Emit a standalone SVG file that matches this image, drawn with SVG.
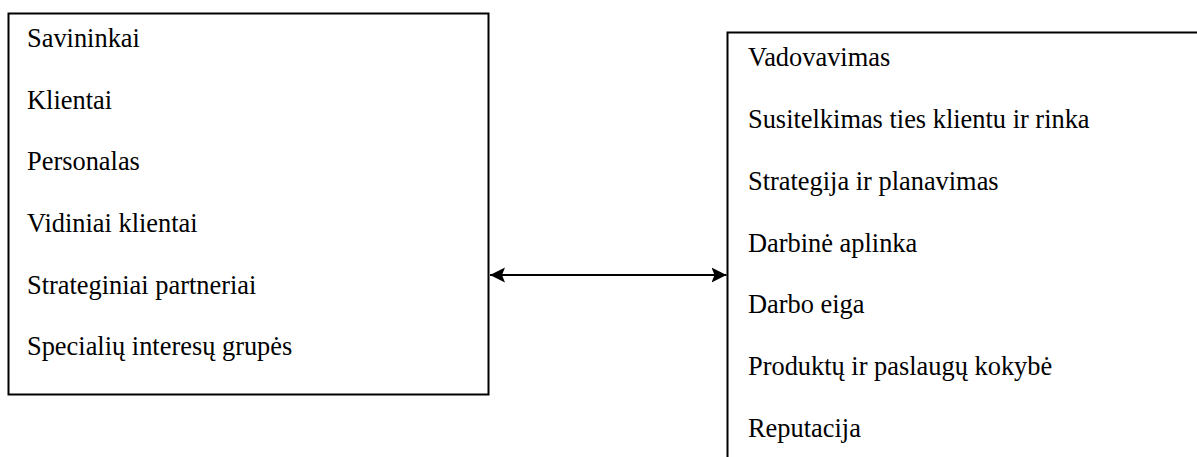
<svg xmlns="http://www.w3.org/2000/svg" width="1197" height="457" viewBox="0 0 1197 457">
<style>
.t{font-family:"Liberation Serif","Times New Roman",serif;font-size:26.4px;fill:#000}
.b{fill:none;stroke:#000;stroke-width:2}
.c{stroke:#000;stroke-width:2;fill:none}
</style>
<defs>
<marker id="ah" markerUnits="userSpaceOnUse" markerWidth="16" markerHeight="16" viewBox="0 0 16 16" refX="15" refY="8" orient="auto-start-reverse">
<path d="M0,0.5 L15,8 L0,15.5 L3,8 Z" fill="#000"/>
</marker>
</defs>
<rect width="1197" height="457" fill="#fff"/>
<g id="left-box">
<rect class="b" x="8.5" y="13.5" width="480" height="381"/>
<text class="t" x="27" y="47">Savininkai</text>
<text class="t" x="27" y="108.5">Klientai</text>
<text class="t" x="27" y="170">Personalas</text>
<text class="t" x="27" y="232">Vidiniai klientai</text>
<text class="t" x="27" y="293.5">Strateginiai partneriai</text>
<text class="t" x="27" y="355">Specialių interesų grupės</text>
</g>
<g id="right-box">
<path class="b" d="M1197,32.5 H727.5 V457"/>
<text class="t" x="748" y="66">Vadovavimas</text>
<text class="t" x="748" y="128">Susitelkimas ties klientu ir rinka</text>
<text class="t" x="748" y="190">Strategija ir planavimas</text>
<text class="t" x="748" y="251.5">Darbinė aplinka</text>
<text class="t" x="748" y="313">Darbo eiga</text>
<text class="t" x="748" y="375">Produktų ir paslaugų kokybė</text>
<text class="t" x="748" y="436.5">Reputacija</text>
</g>
<g id="connectors">
<line class="c" x1="490" y1="275" x2="726.5" y2="275" marker-start="url(#ah)" marker-end="url(#ah)"/>
</g>
</svg>
